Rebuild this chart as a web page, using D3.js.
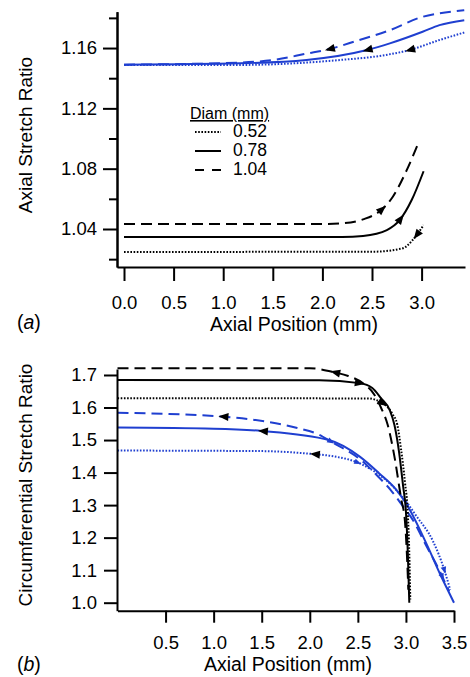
<!DOCTYPE html>
<html>
<head>
<meta charset="utf-8">
<script src="https://cdn.jsdelivr.net/npm/d3@7"></script>
<style>
body { margin: 0; background: #fff; }
svg text { font-family: "Liberation Sans", Arial, sans-serif; fill: #000; }
</style>
</head>
<body>
<svg id="chart" width="470" height="677"></svg>
<script>
var blue = "#1f3fd0",
    dashed = "11,6",
    dotted = "1.6,1.6";

// panel (a) data
var aBlueDashX = [0, 1.0, 1.5, 1.84, 2.07, 2.35, 2.68, 3.01, 3.18, 3.43];
var aBlueDashY = [1.149, 1.150, 1.152, 1.1563, 1.1593, 1.1649, 1.1718, 1.1807, 1.183, 1.1851];
var aBlueSolidX = [0, 1.17, 1.84, 2.45, 2.68, 3.01, 3.18, 3.43];
var aBlueSolidY = [1.149, 1.1499, 1.1521, 1.1587, 1.1631, 1.1708, 1.1752, 1.1785];
var aBlueDotX = [0, 1.17, 2.18, 2.6, 2.88, 3.18, 3.43];
var aBlueDotY = [1.1488, 1.1488, 1.1521, 1.155, 1.1587, 1.1653, 1.1703];
var aBlackDashX = [0, 2.0, 2.2, 2.41, 2.58, 2.71, 2.85, 2.97];
var aBlackDashY = [1.0433, 1.0433, 1.0438, 1.0464, 1.0519, 1.0614, 1.0790, 1.0975];
var aBlackSolidX = [0, 2.2, 2.41, 2.65, 2.78, 2.90, 3.02];
var aBlackSolidY = [1.0347, 1.0347, 1.0354, 1.0393, 1.046, 1.0592, 1.0783];
var aBlackDotX = [0, 2.5, 2.81, 2.91, 3.02];
var aBlackDotY = [1.0248, 1.0249, 1.0272, 1.0327, 1.0426];

var aArrowX = [2.07, 2.45, 2.88, 2.6, 2.79, 2.95];
var aArrowDir = [-1, -1, -1, 1, 1, -1];

var aXTicks = [0, 0.5, 1.0, 1.5, 2.0, 2.5, 3.0];
var aYTicks = [1.04, 1.08, 1.12, 1.16];
var aYMinor = [1.02, 1.06, 1.10, 1.14, 1.18];

var legendTitle = "Diam (mm)";
var legendLabels = ["0.52", "0.78", "1.04"];

// panel (b) data
var bBlueDashX = [0, 1.1, 1.55, 1.87, 2.1, 2.22, 2.55, 2.71, 2.84, 2.96, 3.07, 3.22, 3.33, 3.41, 3.45];
var bBlueDashY = [1.5841, 1.5718, 1.5563, 1.537, 1.516, 1.4954, 1.434, 1.388, 1.347, 1.30, 1.255, 1.17, 1.11, 1.06, 1.035];
var bBlueSolidX = [0, 1.0, 1.5, 2.2, 2.52, 2.72, 2.9, 3.0, 3.22, 3.36, 3.5];
var bBlueSolidY = [1.5385, 1.535, 1.528, 1.50, 1.449, 1.398, 1.347, 1.306, 1.177, 1.085, 1.0];
var bBlueDotX = [0, 1.5, 2.05, 2.2, 2.55, 2.83, 3.03, 3.10, 3.28, 3.40, 3.46];
var bBlueDotY = [1.4677, 1.466, 1.4566, 1.452, 1.424, 1.367, 1.30, 1.27, 1.19, 1.10, 1.04];
var bBlackDashX = [0, 2.0, 2.26, 2.4, 2.55, 2.67, 2.74, 2.81, 2.88, 2.95, 2.99, 3.01, 3.025];
var bBlackDashY = [1.7206, 1.7206, 1.708, 1.697, 1.675, 1.640, 1.60, 1.547, 1.45, 1.32, 1.25, 1.15, 1.04];
var bBlackSolidX = [0, 2.1, 2.52, 2.65, 2.74, 2.83, 2.88, 2.93, 2.97, 3.0, 3.02, 3.035];
var bBlackSolidY = [1.6846, 1.684, 1.675, 1.66, 1.629, 1.593, 1.547, 1.46, 1.36, 1.28, 1.15, 1.0];
var bBlackDotX = [0, 2.6, 2.76, 2.86, 2.91, 2.95, 2.99, 3.02, 3.035, 3.045];
var bBlackDotY = [1.6283, 1.628, 1.613, 1.58, 1.547, 1.47, 1.37, 1.27, 1.15, 1.01];

var bArrowX = [1.10, 1.51, 2.05, 2.26, 2.52, 2.76, 2.22, 2.5, 3.38, 3.40];
var bArrowDir = [-1, -1, -1, -1, 1, 1, 1, 1, 1, 1];
var bArrowSeries = [0, 1, 2, 3, 4, 5, 0, 2, 0, 2];

var bXTicks = [0.5, 1.0, 1.5, 2.0, 2.5, 3.0, 3.5];
var bYTicks = [1.0, 1.1, 1.2, 1.3, 1.4, 1.5, 1.6, 1.7];

var svg = d3.select("#chart");

var line = (xs, sx, sy) => d3.line()
    .x((d, i) => sx(xs[i]))
    .y(d => sy(d))
    .curve(d3.curveMonotoneX);

// triangle at the spot where the drawn path reaches x = px
function arrowOn(g, pathNode, px, dir, fill, size) {
    var len = pathNode.getTotalLength(), l = 0;
    for (l = 0; l < len; l += 0.5) {
        if (pathNode.getPointAtLength(l).x >= px) break;
    }
    var p0 = pathNode.getPointAtLength(Math.max(0, l - 2)),
        p1 = pathNode.getPointAtLength(Math.min(len, l + 2)),
        p = pathNode.getPointAtLength(l);
    var ang = Math.atan2(p1.y - p0.y, p1.x - p0.x) * 180 / Math.PI;
    if (dir < 0) ang += 180;
    g.append("path")
        .attr("d", "M" + (size * 0.5) + ",0 L" + (-size * 0.5) + "," + (-size * 0.4) + " L" + (-size * 0.5) + "," + (size * 0.4) + " Z")
        .attr("transform", "translate(" + p.x + "," + p.y + ") rotate(" + ang + ")")
        .attr("fill", fill);
}

function styleAxis(g) {
    g.select(".domain").attr("stroke", "#000").attr("stroke-width", 2);
    g.selectAll(".tick line").attr("stroke", "#000").attr("stroke-width", 2);
    g.selectAll("text").attr("font-size", 18.5).attr("fill", "#000")
        .attr("font-family", "'Liberation Sans', Arial, sans-serif");
}

// ---------- panel (a) ----------
var ax = d3.scaleLinear().domain([-0.0706, 3.4375]).range([117, 465]);
var ay = d3.scaleLinear().domain([1.0148, 1.1841]).range([267, 11.7]);

var aSeries = [
    {x: aBlueDashX, y: aBlueDashY, color: blue, dash: dashed},
    {x: aBlueSolidX, y: aBlueSolidY, color: blue, dash: null},
    {x: aBlueDotX, y: aBlueDotY, color: blue, dash: dotted},
    {x: aBlackDashX, y: aBlackDashY, color: "#000", dash: dashed},
    {x: aBlackSolidX, y: aBlackSolidY, color: "#000", dash: null},
    {x: aBlackDotX, y: aBlackDotY, color: "#000", dash: dotted}
];

var gA = svg.append("g");
var aPaths = aSeries.map(s => gA.append("path")
    .attr("d", line(s.x, ax, ay)(s.y))
    .attr("fill", "none")
    .attr("stroke", s.color)
    .attr("stroke-width", 2)
    .attr("stroke-dasharray", s.dash)
    .node());

aArrowX.forEach((v, i) => arrowOn(gA, aPaths[i], ax(v), aArrowDir[i], "#000", 10));

gA.append("g")
    .attr("transform", "translate(117,0)")
    .call(d3.axisLeft(ay).tickValues(aYMinor).tickFormat("").tickSize(8).tickSizeOuter(0))
    .call(styleAxis);
gA.append("g")
    .attr("transform", "translate(117,0)")
    .call(d3.axisLeft(ay).tickValues(aYTicks).tickFormat(d3.format(".2f")).tickSize(14).tickSizeOuter(0).tickPadding(6))
    .call(styleAxis);
gA.append("g")
    .attr("transform", "translate(0,267)")
    .call(d3.axisBottom(ax).tickValues(aXTicks).tickFormat(d3.format(".1f")).tickSize(14).tickSizeOuter(0).tickPadding(15))
    .call(styleAxis);

gA.append("text").attr("transform", "translate(32,135) rotate(-90)")
    .attr("text-anchor", "middle").attr("font-size", 19).text("Axial Stretch Ratio");
gA.append("text").attr("x", 294).attr("y", 331)
    .attr("text-anchor", "middle").attr("font-size", 19.5).text("Axial Position (mm)");
var la = gA.append("text").attr("x", 17).attr("y", 329).attr("font-size", 19.5);
la.append("tspan").text("(");
la.append("tspan").attr("font-style", "italic").text("a");
la.append("tspan").text(")");

// legend
var lg = gA.append("g");
lg.append("text").attr("x", 190).attr("y", 119).attr("font-size", 16)
    .attr("text-decoration", "underline").text(legendTitle);
var legendDash = [dotted, null, "9,8"];
legendLabels.forEach((lab, i) => {
    var yy = 137 + i * 19;
    lg.append("line").attr("x1", 195).attr("x2", 221).attr("y1", yy - 5).attr("y2", yy - 5)
        .attr("stroke", "#000").attr("stroke-width", 2)
        .attr("stroke-dasharray", legendDash[i]);
    lg.append("text").attr("x", 233).attr("y", yy).attr("font-size", 17.5).text(lab);
});

// ---------- panel (b) ----------
var bx = d3.scaleLinear().domain([0, 3.5]).range([117.5, 454]);
var by = d3.scaleLinear().domain([0.9754, 1.7184]).range([610.7, 369]);

var bSeries = [
    {x: bBlueDashX, y: bBlueDashY, color: blue, dash: dashed},
    {x: bBlueSolidX, y: bBlueSolidY, color: blue, dash: null},
    {x: bBlueDotX, y: bBlueDotY, color: blue, dash: dotted},
    {x: bBlackDashX, y: bBlackDashY, color: "#000", dash: dashed},
    {x: bBlackSolidX, y: bBlackSolidY, color: "#000", dash: null},
    {x: bBlackDotX, y: bBlackDotY, color: "#000", dash: dotted}
];

var gB = svg.append("g");
var bPaths = bSeries.map(s => gB.append("path")
    .attr("d", line(s.x, bx, by)(s.y))
    .attr("fill", "none")
    .attr("stroke", s.color)
    .attr("stroke-width", 2)
    .attr("stroke-dasharray", s.dash)
    .node());

bArrowX.forEach((v, i) => {
    var k = bArrowSeries[i];
    var small = i >= 6;
    arrowOn(gB, bPaths[k], bx(v), bArrowDir[i], small ? blue : "#000", small ? 7 : 10);
});

gB.append("g")
    .attr("transform", "translate(117,0)")
    .call(d3.axisLeft(by).tickValues(bYTicks).tickFormat(d3.format(".1f")).tickSize(13).tickSizeOuter(0).tickPadding(7))
    .call(styleAxis);
gB.append("g")
    .attr("transform", "translate(0,610.7)")
    .call(d3.axisBottom(bx).tickValues(bXTicks).tickFormat(d3.format(".1f")).tickSize(12).tickSizeOuter(0).tickPadding(13))
    .call(styleAxis);

gB.append("text").attr("transform", "translate(32,485) rotate(-90)")
    .attr("text-anchor", "middle").attr("font-size", 19).text("Circumferential Stretch Ratio");
gB.append("text").attr("x", 288).attr("y", 671)
    .attr("text-anchor", "middle").attr("font-size", 19.5).text("Axial Position (mm)");
var lb = gB.append("text").attr("x", 17).attr("y", 671).attr("font-size", 19.5);
lb.append("tspan").text("(");
lb.append("tspan").attr("font-style", "italic").text("b");
lb.append("tspan").text(")");
</script>
</body>
</html>
